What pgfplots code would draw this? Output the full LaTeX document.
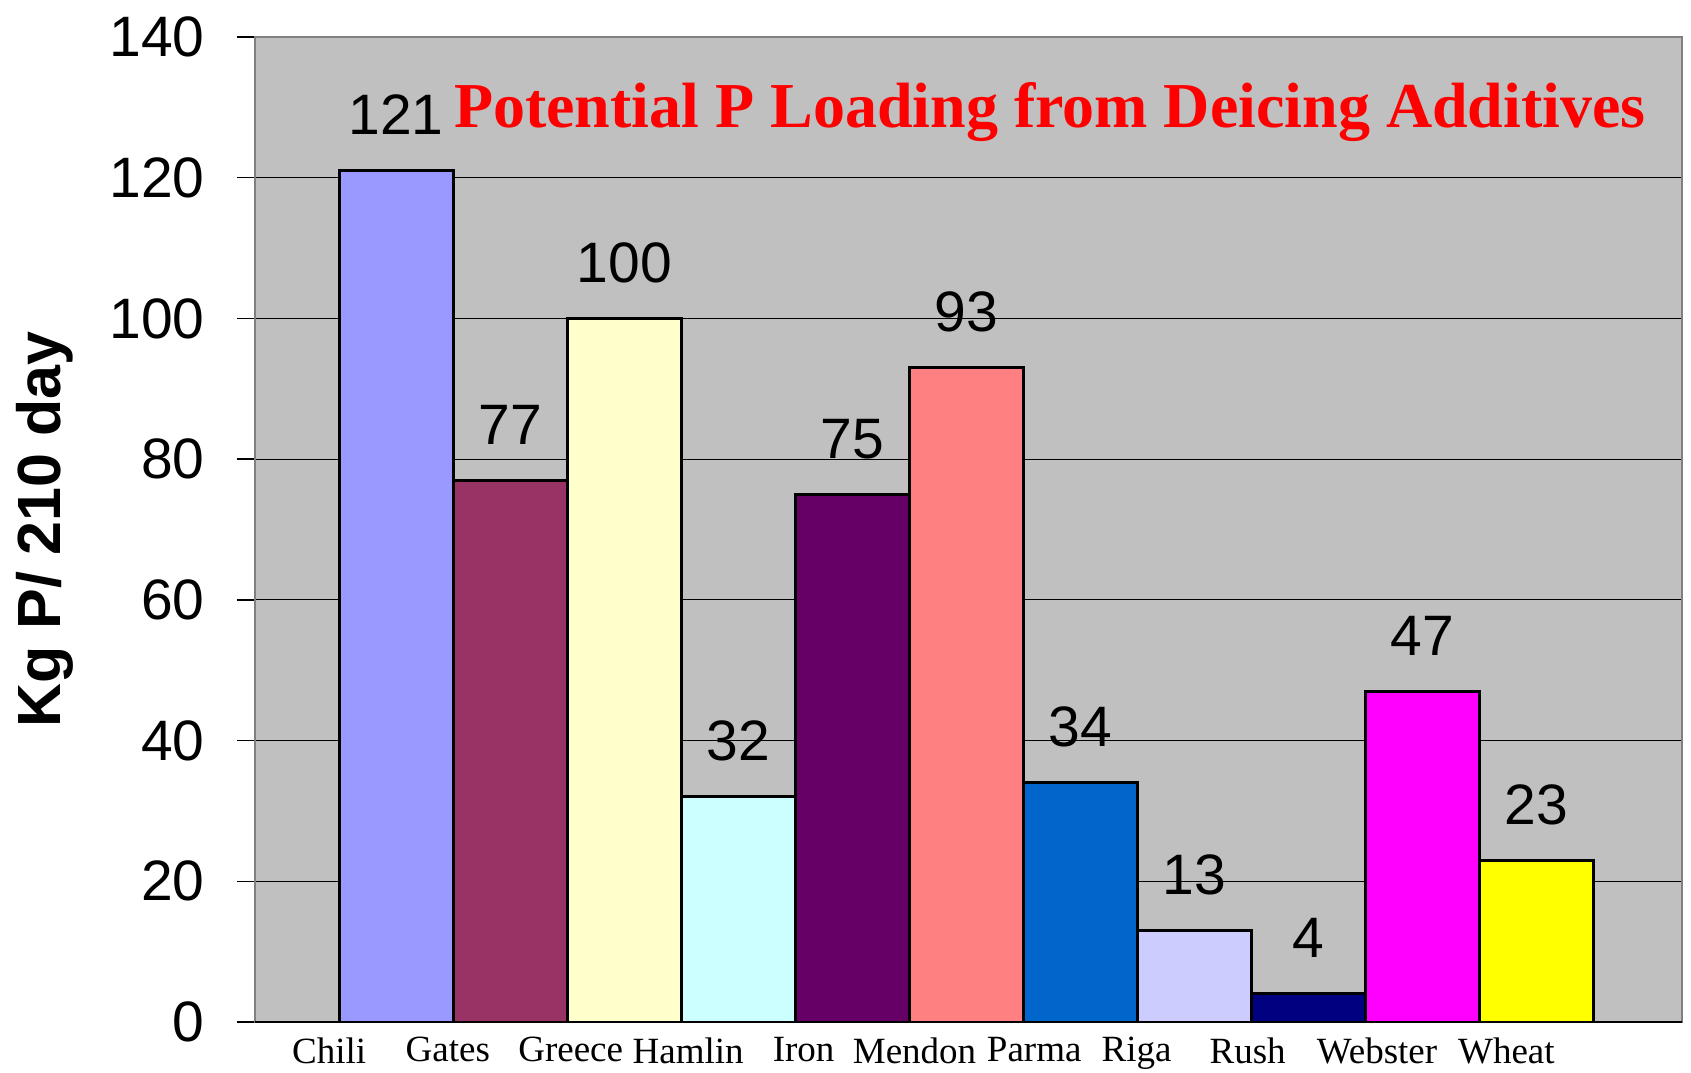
\documentclass[border=0pt]{standalone}
\usepackage{pgfplots}
\pgfplotsset{compat=1.18}
\usepackage{fontspec}
\setmainfont{Liberation Serif}
\newfontfamily\arial{Liberation Sans}
\definecolor{bgc}{HTML}{C0C0C0}
\definecolor{cChili}{HTML}{9999FF}
\definecolor{cGates}{HTML}{993366}
\definecolor{cGreece}{HTML}{FFFFCC}
\definecolor{cHamlin}{HTML}{CCFFFF}
\definecolor{cIron}{HTML}{660066}
\definecolor{cMendon}{HTML}{FF8080}
\definecolor{cParma}{HTML}{0066CC}
\definecolor{cRiga}{HTML}{CCCCFF}
\definecolor{cRush}{HTML}{000080}
\definecolor{cWebster}{HTML}{FF00FF}
\definecolor{cWheat}{HTML}{FFFF00}
\pgfplotsset{
  /pgf/number format/assume math mode=true,
  pbar/.style={ybar, bar width=1, bar shift=0pt, draw=black, line width=1.5pt, fill=#1},
}
\begin{document}
\begin{tikzpicture}
\begin{axis}[
    scale only axis,
    width=713.5pt, height=492.5pt,
    xmin=-1.237, xmax=11.275,
    ymin=0, ymax=140,
    ytick={0,20,...,140},
    ytick pos=left,
    tick align=outside,
    major tick length=9pt,
    ytick style={black, line width=0.7pt},
    xtick={-0.586,0.454,1.531,2.561,3.573,4.546,5.595,6.493,7.467,8.601,9.735},
    xticklabels={Chili,Gates,Greece,Hamlin,Iron,Mendon,Parma,Riga,Rush,Webster,Wheat},
    xtick style={draw=none},
    xticklabel style={font=\fontsize{18.5}{20}\selectfont, anchor=north, inner sep=0pt, yshift=1.5pt},
    yticklabel style={font=\arial\fontsize{28.5}{30}\selectfont, anchor=east, inner sep=0pt, xshift=-16pt},
    ymajorgrids=true,
    major grid style={black, line width=0.6pt},
    axis background/.style={fill=bgc},
    axis line style={draw=gray, line width=1pt},
    ylabel={Kg P/ 210 day},
    ylabel style={font=\arial\bfseries\fontsize{30.5}{32}\selectfont, at={(axis description cs:-0.1472,0.5)}, anchor=center},
    title={Potential P Loading from Deicing Additives},
    every axis title shift=0pt,
    title style={font=\bfseries\fontsize{32}{34}\selectfont, text=red, at={(axis description cs:0.557,0.9086)}, anchor=base, inner sep=0pt},
    nodes near coords,
    every node near coord/.append style={font=\arial\fontsize{28.5}{30}\selectfont, text=black, anchor=base, inner sep=0pt, yshift=18pt},
]
\addplot[pbar=cChili]   coordinates {(0,121)};
\addplot[pbar=cGates]   coordinates {(1,77)};
\addplot[pbar=cGreece]  coordinates {(2,100)};
\addplot[pbar=cHamlin]  coordinates {(3,32)};
\addplot[pbar=cIron]    coordinates {(4,75)};
\addplot[pbar=cMendon]  coordinates {(5,93)};
\addplot[pbar=cParma]   coordinates {(6,34)};
\addplot[pbar=cRiga]    coordinates {(7,13)};
\addplot[pbar=cRush]    coordinates {(8,4)};
\addplot[pbar=cWebster] coordinates {(9,47)};
\addplot[pbar=cWheat]   coordinates {(10,23)};
% category axis line and its end ticks
\draw[black, line width=1pt] (axis cs:-1.237,0) -- (axis cs:11.275,0);
\draw[black, line width=0.7pt] (axis cs:-1.237,0) -- ++(0,-8.5pt);
\draw[black, line width=0.7pt] (axis cs:11.275,0) -- ++(0,-8.5pt);
\end{axis}
\pgfresetboundingbox
\path[use as bounding box] (-127.5pt,-25pt) rectangle (718pt,511pt);
\end{tikzpicture}
\end{document}
